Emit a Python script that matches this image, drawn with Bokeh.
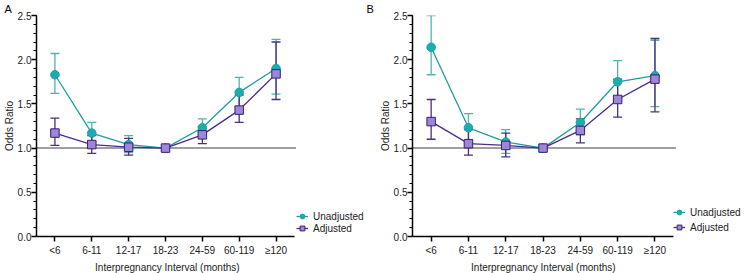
from bokeh.plotting import figure
from bokeh.layouts import row
from bokeh.models import (ColumnDataSource, Whisker, TeeHead, Legend, LegendItem,
                          FixedTicker, Range1d, Title)
from bokeh.embed import file_html
from bokeh.resources import INLINE

categories = ["<6", "6-11", "12-17", "18-23", "24-59", "60-119", "≥120"]

A_unadj = [1.83, 1.17, 1.04, 1.00, 1.23, 1.63, 1.90]
A_unadj_lo = [1.62, 1.07, 0.95, 1.00, 1.13, 1.47, 1.61]
A_unadj_hi = [2.07, 1.29, 1.14, 1.00, 1.33, 1.80, 2.23]
A_adj = [1.17, 1.04, 1.01, 1.00, 1.15, 1.43, 1.84]
A_adj_lo = [1.03, 0.94, 0.92, 1.00, 1.05, 1.29, 1.55]
A_adj_hi = [1.34, 1.14, 1.11, 1.00, 1.24, 1.60, 2.20]

B_unadj = [2.14, 1.23, 1.07, 1.00, 1.29, 1.75, 1.82]
B_unadj_lo = [1.83, 1.08, 0.94, 1.00, 1.15, 1.55, 1.47]
B_unadj_hi = [2.50, 1.39, 1.21, 1.00, 1.44, 1.99, 2.22]
B_adj = [1.30, 1.05, 1.03, 1.00, 1.20, 1.55, 1.78]
B_adj_lo = [1.10, 0.92, 0.90, 1.00, 1.06, 1.35, 1.41]
B_adj_hi = [1.55, 1.21, 1.17, 1.00, 1.33, 1.78, 2.24]

y_ticks = [0.0, 0.5, 1.0, 1.5, 2.0, 2.5]
y_minor = [round(i * 0.1, 1) for i in range(26)]

TEAL_FILL = "#1BAEAE"
TEAL_LINE = "#1F9D9D"
TEAL_ERR = "#4DB5AF"
PURP_FILL = "#9E86D8"
PURP_EDGE = "#3A1E72"
PURP_LINE = "#4B2C8F"
PURP_ERR = "#4A2F80"
FONT = "Liberation Sans"
TXT = "#222222"

PX_PER_CAT = 37.3  # horizontal pixels per category in the reference
XTITLE_W = 144     # approx. width of the x-axis title text at 10px


def make_panel(letter, width, unadj, ulo, uhi, adj, alo, ahi, left, leg_x, leg_y, leg_sp):
    extra_px = width - left - 7 * PX_PER_CAT  # room right of the x axis for the legend
    x_end = 6.5 + extra_px / PX_PER_CAT
    p = figure(width=width, height=273, output_backend="svg", toolbar_location=None,
               x_range=Range1d(-0.5, x_end), y_range=Range1d(0, 2.5),
               min_border_left=left, min_border_right=0,
               min_border_top=15, min_border_bottom=35)
    p.outline_line_color = None
    p.grid.visible = False
    p.background_fill_color = "white"

    p.title.text = letter
    p.title.align = "left"
    p.title.offset = -left
    p.title.standoff = 1
    p.title.text_font = FONT
    p.title.text_font_size = "11px"
    p.title.text_font_style = "normal"
    p.title.text_color = "black"

    xs = list(range(len(categories)))

    # dotted reference line at OR = 1
    p.segment(x0=[-0.5], y0=[1.0], x1=[6.55], y1=[1.0], line_color="black",
              line_dash="1 1", line_width=1.5)

    renderers = {}
    for name, vals, lo, hi, lc, fc, ec, errc, marker in [
        ("Unadjusted", unadj, ulo, uhi, TEAL_LINE, TEAL_FILL, TEAL_LINE, TEAL_ERR, "circle"),
        ("Adjusted", adj, alo, ahi, PURP_LINE, PURP_FILL, PURP_EDGE, PURP_ERR, "square"),
    ]:
        wx = [x for x, l, h in zip(xs, lo, hi) if l != h]
        wl = [l for l, h in zip(lo, hi) if l != h]
        wh = [h for l, h in zip(lo, hi) if l != h]
        wsrc = ColumnDataSource(dict(x=wx, lo=wl, hi=wh))
        w = Whisker(base="x", lower="lo", upper="hi", source=wsrc,
                    line_color=errc, line_width=1.3,
                    upper_head=TeeHead(size=9, line_color=errc, line_width=1.3),
                    lower_head=TeeHead(size=9, line_color=errc, line_width=1.3))
        p.add_layout(w)
        src = ColumnDataSource(dict(x=xs, y=vals))
        ln = p.line("x", "y", source=src, line_color=lc, line_width=1.3)
        sc = p.scatter("x", "y", source=src, marker=marker, size=8.5,
                       fill_color=fc, line_color=ec, line_width=1)
        renderers[name] = [ln, sc]

    legend = Legend(items=[LegendItem(label="Unadjusted", renderers=renderers["Unadjusted"]),
                           LegendItem(label="Adjusted", renderers=renderers["Adjusted"])],
                    location=(leg_x, leg_y), margin=0, padding=0, spacing=leg_sp,
                    glyph_width=12, glyph_height=12, label_height=12,
                    label_standoff=5, label_text_font=FONT, label_text_font_size="10px",
                    label_text_color=TXT, border_line_alpha=0, background_fill_alpha=0)
    p.add_layout(legend, "center")

    p.xaxis.ticker = FixedTicker(ticks=xs)
    p.xaxis.bounds = (-0.5, 6.5)
    p.xaxis.major_label_overrides = {i: c for i, c in enumerate(categories)}
    p.xaxis.minor_tick_line_color = None
    p.yaxis.ticker = FixedTicker(ticks=y_ticks, minor_ticks=y_minor)
    p.yaxis.major_label_overrides = {t: f"{t:.1f}" for t in y_ticks}
    p.yaxis.axis_label = "Odds Ratio"
    for ax in (p.xaxis[0], p.yaxis[0]):
        ax.axis_line_width = 1.5
        ax.axis_line_color = "black"
        ax.major_tick_line_width = 1.5
        ax.major_tick_line_color = "black"
        ax.major_tick_out = 5
        ax.major_tick_in = 0
        ax.minor_tick_line_width = 1.2
        ax.minor_tick_out = 3
        ax.minor_tick_in = 0
        ax.major_label_text_font = FONT
        ax.major_label_text_font_size = "10px"
        ax.major_label_text_color = TXT
        ax.axis_label_text_font = FONT
        ax.axis_label_text_font_size = "10px"
        ax.axis_label_text_font_style = "normal"
        ax.axis_label_text_color = TXT
    p.xaxis.major_label_standoff = 3
    p.yaxis.major_label_standoff = 0
    p.yaxis.axis_label_standoff = 0
    p.yaxis.minor_tick_line_color = "black"

    # x-axis title, centred under the axis line (not under the legend space)
    xt = Title(text="Interpregnancy Interval (months)", align="left",
               offset=(7 * PX_PER_CAT - XTITLE_W) / 2, standoff=2, text_font=FONT,
               text_font_size="10px", text_font_style="normal", text_color=TXT)
    p.add_layout(xt, "below")
    return p


pA = make_panel("A", 366, A_unadj, A_unadj_lo, A_unadj_hi, A_adj, A_adj_lo, A_adj_hi,
                32, 260, 2, 0)
pB = make_panel("B", 378, B_unadj, B_unadj_lo, B_unadj_hi, B_adj, B_adj_lo, B_adj_hi,
                46, 261, 3, 3)

layout = row(pA, pB, spacing=0)
open("out.html", "w").write(file_html(layout, INLINE))
